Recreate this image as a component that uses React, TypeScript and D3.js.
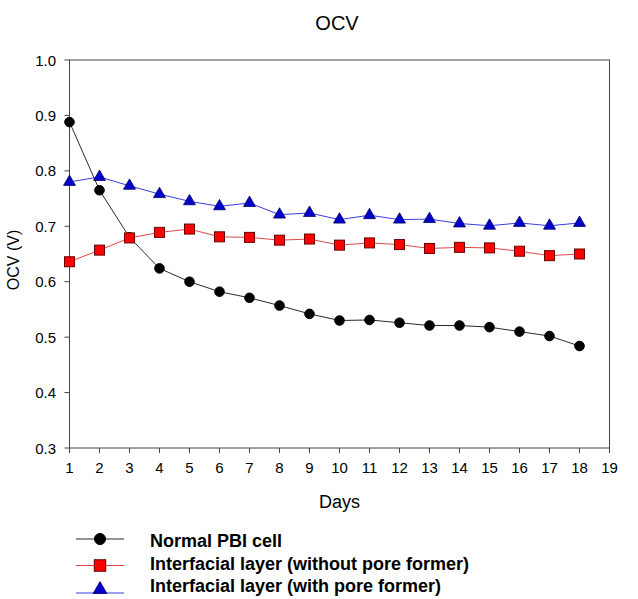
import React from "react";
import * as d3 from "d3";

const days = [1, 2, 3, 4, 5, 6, 7, 8, 9, 10, 11, 12, 13, 14, 15, 16, 17, 18];
const normalPBI = [0.888, 0.765, 0.68, 0.624, 0.6, 0.582, 0.571, 0.557, 0.542, 0.53, 0.531, 0.526, 0.521, 0.521, 0.518, 0.51, 0.502, 0.484];
const withoutPore = [0.636, 0.657, 0.679, 0.689, 0.695, 0.681, 0.68, 0.675, 0.677, 0.666, 0.67, 0.667, 0.66, 0.662, 0.661, 0.655, 0.647, 0.65];
const withPore = [0.78, 0.789, 0.773, 0.758, 0.745, 0.736, 0.742, 0.721, 0.724, 0.712, 0.72, 0.712, 0.713, 0.705, 0.701, 0.706, 0.701, 0.706];
const xTicks = d3.range(1, 20);
const yTicks = [0.3, 0.4, 0.5, 0.6, 0.7, 0.8, 0.9, 1.0];
const legendLabels = ["Normal PBI cell", "Interfacial layer (without pore former)", "Interfacial layer (with pore former)"];

const FONT = "'Liberation Sans', Arial, sans-serif";

export default function App() {
  const W = 638, H = 599;
  const left = 69.5, right = 609.5, top = 60, bottom = 448;
  const x = d3.scaleLinear().domain([1, 19]).range([left, right]);
  const y = d3.scaleLinear().domain([0.3, 1.0]).range([bottom, top]);
  const line = d3.line<number>().x((_, i) => x(days[i])).y((d) => y(d));

  const series = [
    { data: normalPBI, stroke: "#2a2a2a", kind: "circle", fill: "#000000", mstroke: "#000000" },
    { data: withoutPore, stroke: "#e04848", kind: "square", fill: "#ff0000", mstroke: "#6a0000" },
    { data: withPore, stroke: "#3c3ce6", kind: "triangle", fill: "#0000c8", mstroke: "#00006a" },
  ];

  const marker = (kind: string, cx: number, cy: number, fill: string, stroke: string, key: any, scale = 1) => {
    if (kind === "circle") return <circle key={key} cx={cx} cy={cy} r={4.8 * scale} fill={fill} stroke={stroke} strokeWidth={1} />;
    if (kind === "square") {
      const h = 5 * scale;
      return <rect key={key} x={cx - h} y={cy - h} width={2 * h} height={2 * h} fill={fill} stroke={stroke} strokeWidth={1} />;
    }
    const s = d3.symbol().type(d3.symbolTriangle).size(62 * scale * scale)();
    return <path key={key} d={s || ""} transform={`translate(${cx},${cy})`} fill={fill} stroke={stroke} strokeWidth={0.8} />;
  };

  const legendRows = [
    { line: 539, marker: 539, text: 547 },
    { line: 565.5, marker: 565.5, text: 570 },
    { line: 593, marker: 589.5, text: 592 },
  ];

  return (
    <svg width={W} height={H} style={{ display: "block", position: "absolute", left: 0, top: 0, background: "#fff" }}>
      <rect x={0} y={0} width={W} height={H} fill="#fff" />
      <text x={337} y={30} textAnchor="middle" fontFamily={FONT} fontSize={20} fill="#000">OCV</text>
      {/* frame */}
      <rect x={left} y={top} width={right - left} height={bottom - top} fill="none" stroke="#444" strokeWidth={1} />
      {/* x ticks */}
      {xTicks.map((t) => (
        <g key={"xt" + t}>
          <line x1={x(t)} x2={x(t)} y1={bottom} y2={bottom + 5} stroke="#444" />
          <text x={x(t)} y={473} textAnchor="middle" fontFamily={FONT} fontSize={15} fill="#000">{t}</text>
        </g>
      ))}
      {yTicks.map((t) => (
        <g key={"yt" + t}>
          <line x1={left - 5} x2={left} y1={y(t)} y2={y(t)} stroke="#444" />
          <text x={56} y={y(t) + 5.5} textAnchor="end" fontFamily={FONT} fontSize={15} fill="#000">{t.toFixed(1)}</text>
        </g>
      ))}
      <text x={339.5} y={508} textAnchor="middle" fontFamily={FONT} fontSize={18} fill="#000">Days</text>
      <text transform={`translate(19,260) rotate(-90)`} textAnchor="middle" fontFamily={FONT} fontSize={16} fill="#000">OCV (V)</text>
      {/* series */}
      {series.map((s, si) => (
        <g key={"s" + si}>
          <path d={line(s.data) || ""} fill="none" stroke={s.stroke} strokeWidth={1} />
          {s.data.map((v, i) => marker(s.kind, x(days[i]), y(v), s.fill, s.mstroke, i))}
        </g>
      ))}
      {/* legend */}
      {series.map((s, si) => {
        const r = legendRows[si];
        return (
          <g key={"l" + si}>
            <line x1={76} x2={124} y1={r.line} y2={r.line} stroke={s.stroke} strokeWidth={1} />
            {marker(s.kind, 100, r.marker, s.fill, s.mstroke, "m", 1.15)}
            <text x={150} y={r.text} fontFamily={FONT} fontSize={18} fontWeight="bold" fill="#000">{legendLabels[si]}</text>
          </g>
        );
      })}
    </svg>
  );
}
